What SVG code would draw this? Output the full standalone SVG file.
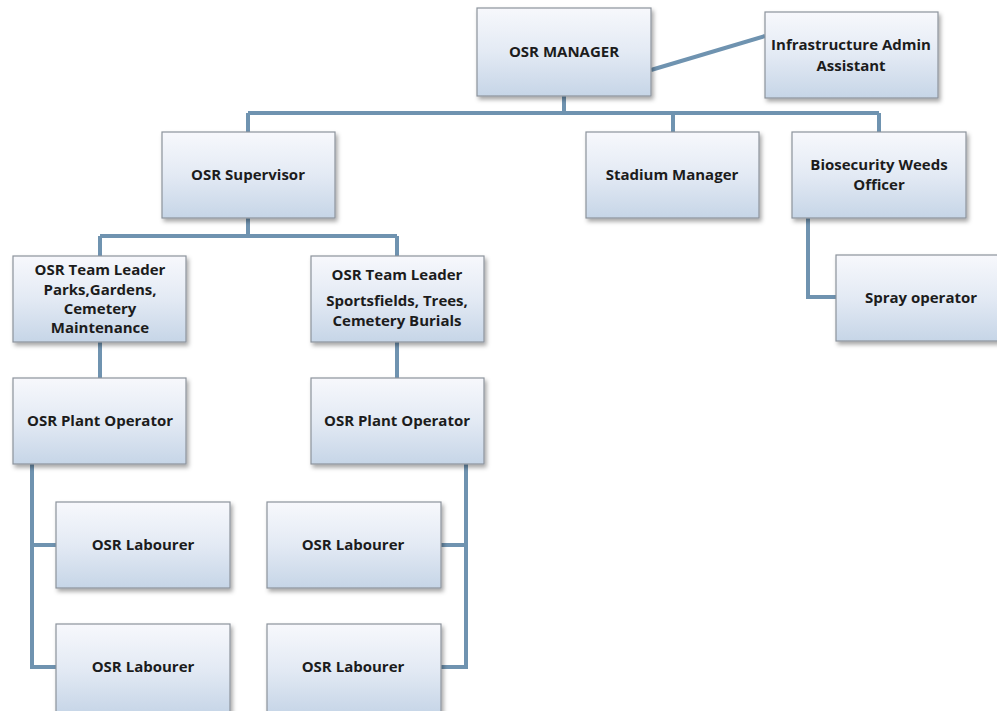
<svg xmlns="http://www.w3.org/2000/svg" width="997" height="711" viewBox="0 0 997 711">
<defs>
<linearGradient id="g" x1="0" y1="0" x2="0" y2="1">
<stop offset="0" stop-color="#f7f8fc"/>
<stop offset="0.5" stop-color="#e3eaf4"/>
<stop offset="1" stop-color="#c6d5e7"/>
</linearGradient>
<filter id="sh" x="-10%" y="-10%" width="125%" height="130%">
<feDropShadow dx="2" dy="3" stdDeviation="2" flood-color="#000" flood-opacity="0.35"/>
</filter>
</defs>
<style>
.box{fill:url(#g);stroke:#8c939c;stroke-width:1.2;filter:url(#sh)}
.t{font-family:"Open Sans","Liberation Sans",sans-serif;font-weight:bold;font-size:15px;fill:#1c1c1c;text-anchor:middle}
.c{fill:none;stroke:#6f93b0;stroke-width:4;stroke-linejoin:miter}
</style>
<rect width="997" height="711" fill="#ffffff"/>
<g id="connectors">
<path class="c" d="M651,70 L765,36"/>
<path class="c" d="M564,96 V113 M248,113 H879 M248,113 V133 M673,113 V133 M879,113 V132"/>
<path class="c" d="M248,218 V236 M100,236 H397 M100,236 V256 M397,236 V256"/>
<path class="c" d="M100,342 V378 M397,342 V378"/>
<path class="c" d="M808,218 V297 H836"/>
<path class="c" d="M32,464 V667 H56 M32,545 H56"/>
<path class="c" d="M466,464 V667 H441 M466,545 H441"/>
</g>
<g id="osr-manager"><rect class="box" x="477" y="8" width="174" height="88"/><text class="t" x="564" y="57">OSR MANAGER</text></g>
<g id="infra-admin"><rect class="box" x="765" y="12" width="173" height="86"/><text class="t" x="851" y="50">Infrastructure Admin</text><text class="t" x="851" y="71">Assistant</text></g>
<g id="osr-supervisor"><rect class="box" x="162" y="132" width="173" height="86"/><text class="t" x="248" y="180">OSR Supervisor</text></g>
<g id="stadium-manager"><rect class="box" x="586" y="132" width="173" height="86"/><text class="t" x="672" y="180">Stadium Manager</text></g>
<g id="biosecurity"><rect class="box" x="792" y="132" width="174" height="86"/><text class="t" x="879" y="170">Biosecurity Weeds</text><text class="t" x="879" y="190">Officer</text></g>
<g id="spray-operator"><rect class="box" x="836" y="255" width="175" height="86"/><text class="t" x="921" y="303">Spray operator</text></g>
<g id="team-leader-1"><rect class="box" x="13" y="256" width="173" height="86"/><text class="t" x="100" y="275">OSR Team Leader</text><text class="t" x="100" y="295">Parks,Gardens,</text><text class="t" x="100" y="314">Cemetery</text><text class="t" x="100" y="333">Maintenance</text></g>
<g id="team-leader-2"><rect class="box" x="311" y="256" width="173" height="86"/><text class="t" x="397" y="280">OSR Team Leader</text><text class="t" x="397" y="306">Sportsfields, Trees,</text><text class="t" x="397" y="326">Cemetery Burials</text></g>
<g id="plant-operator-1"><rect class="box" x="13" y="378" width="173" height="86"/><text class="t" x="100" y="426">OSR Plant Operator</text></g>
<g id="plant-operator-2"><rect class="box" x="311" y="378" width="173" height="86"/><text class="t" x="397" y="426">OSR Plant Operator</text></g>
<g id="labourer-1"><rect class="box" x="56" y="502" width="174" height="86"/><text class="t" x="143" y="550">OSR Labourer</text></g>
<g id="labourer-2"><rect class="box" x="56" y="624" width="174" height="90"/><text class="t" x="143" y="672">OSR Labourer</text></g>
<g id="labourer-3"><rect class="box" x="267" y="502" width="174" height="86"/><text class="t" x="353" y="550">OSR Labourer</text></g>
<g id="labourer-4"><rect class="box" x="267" y="624" width="174" height="90"/><text class="t" x="353" y="672">OSR Labourer</text></g>
</svg>
